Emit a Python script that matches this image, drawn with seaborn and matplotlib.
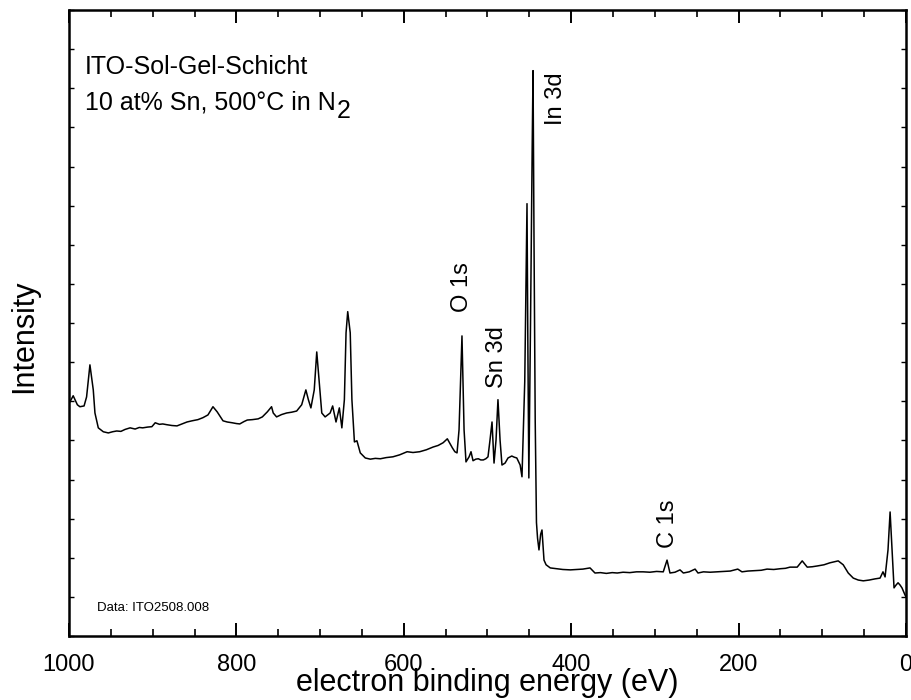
import matplotlib
matplotlib.use("Agg")
import matplotlib.pyplot as plt
import seaborn as sns
from matplotlib.ticker import MultipleLocator

sns.set_theme(style="ticks")
plt.rcParams["font.family"] = ["Liberation Sans", "DejaVu Sans"]
plt.rcParams["mathtext.fontset"] = "custom"
plt.rcParams["mathtext.rm"] = "Liberation Sans"
plt.rcParams["text.color"] = "black"
plt.rcParams["axes.labelcolor"] = "black"
plt.rcParams["xtick.color"] = "black"
plt.rcParams["ytick.color"] = "black"

# XPS survey spectrum
energy = [1000, 999, 995, 990, 987, 982, 979, 975, 971, 969, 965, 959, 953, 948, 943,
          938, 933, 927, 921, 916, 912, 906, 901, 897, 892, 888, 883, 877, 871, 865,
          859, 853, 846, 840, 834, 828, 823, 816, 811, 805, 800, 796, 791, 787, 781,
          774, 769, 763, 758, 756, 752, 746, 740, 734, 728, 722, 717, 714, 711, 707,
          704, 701, 698, 694, 691, 688, 685, 681, 677, 674, 671, 669, 667, 664, 662,
          659, 656, 652, 646, 640, 634, 628, 621, 613, 605, 596, 589, 581, 573, 565,
          559, 553, 548, 542, 539, 536.4, 534, 530.5, 528, 525.7, 522, 519.7, 517.3, 514, 511,
          508, 505, 502, 499.4, 497, 494.6, 492.2, 489.8, 487.5, 485, 482.7, 479, 475.5, 471,
          468, 465, 461, 458.8, 455.5, 453.8, 452.8, 451.8, 450.6, 448.6, 446.6, 445.6, 444.4,
          443, 441.5, 440.2, 438.5, 436.5, 434.9, 432.5, 430, 425, 418, 410, 401, 394, 386,
          377.5, 371.6, 365, 358, 351, 345, 338, 330, 322, 314, 306, 298, 290, 285.5, 282,
          276, 270, 266, 259, 252, 248.5, 242, 234, 226, 218, 210, 201, 196, 189, 181,
          173, 166, 158, 150, 144, 138.6, 130, 124, 118, 112, 106, 98, 91, 85, 81,
          75, 69, 63, 57, 51, 44, 37, 31, 27.5, 25, 21.5, 19, 16.7, 14.3, 12,
          9.5, 7, 4.8, 1.2, 0]
intensity = [6.00, 5.98, 6.14, 5.91, 5.86, 5.88, 6.11, 6.93, 6.29, 5.70, 5.32, 5.22, 5.19, 5.22, 5.24,
             5.23, 5.28, 5.32, 5.29, 5.33, 5.32, 5.34, 5.35, 5.45, 5.41, 5.42, 5.40, 5.38, 5.37, 5.42,
             5.47, 5.50, 5.53, 5.58, 5.65, 5.86, 5.73, 5.50, 5.47, 5.45, 5.43, 5.42, 5.48, 5.52, 5.53,
             5.55, 5.60, 5.73, 5.86, 5.70, 5.60, 5.66, 5.70, 5.72, 5.75, 5.91, 6.29, 6.04, 5.83, 6.29,
             7.26, 6.47, 5.70, 5.60, 5.65, 5.70, 5.88, 5.47, 5.83, 5.32, 6.04, 7.75, 8.29, 7.75, 6.04,
             4.96, 4.99, 4.68, 4.55, 4.52, 4.54, 4.53, 4.56, 4.58, 4.63, 4.71, 4.69, 4.71, 4.76, 4.83,
             4.87, 4.94, 5.04, 4.81, 4.71, 4.68, 5.27, 7.67, 5.27, 4.45, 4.58, 4.71, 4.48, 4.52, 4.53,
             4.50, 4.50, 4.53, 4.58, 5.01, 5.47, 4.42, 5.01, 6.04, 5.01, 4.37, 4.42, 4.55, 4.60,
             4.57, 4.55, 4.37, 4.07, 6.50, 9.50, 11.05, 7.50, 4.04, 8.00, 12.50, 14.45, 10.00,
             5.50, 2.90, 2.50, 2.20, 2.60, 2.71, 1.94, 1.82, 1.74, 1.72, 1.70, 1.69, 1.70, 1.71,
             1.74, 1.61, 1.62, 1.60, 1.62, 1.61, 1.63, 1.62, 1.64, 1.64, 1.63, 1.65, 1.64, 1.94, 1.61,
             1.63, 1.69, 1.61, 1.64, 1.71, 1.61, 1.64, 1.63, 1.64, 1.65, 1.66, 1.71, 1.64, 1.66, 1.67,
             1.68, 1.71, 1.70, 1.72, 1.73, 1.76, 1.76, 1.92, 1.76, 1.77, 1.79, 1.82, 1.87, 1.90, 1.92,
             1.82, 1.61, 1.48, 1.43, 1.41, 1.43, 1.46, 1.48, 1.64, 1.51, 2.20, 3.17, 2.20, 1.23, 1.30,
             1.36, 1.30, 1.23, 1.05, 1.00]

peak_labels = ["O 1s", "Sn 3d", "In 3d", "C 1s"]
peak_label_x = [530.5, 488.5, 418, 284.5]
peak_label_y = [8.29, 6.34, 13.07, 2.25]

fig = plt.figure(figsize=(9.12, 7), dpi=100)
ax = fig.add_axes([69 / 912, 64 / 700, 837 / 912, 626 / 700])

sns.lineplot(x=energy, y=intensity, ax=ax, color="black", lw=1.1,
             sort=False, estimator=None)

ax.set_xlim(1000, 0)
ax.set_ylim(0, 16)
ax.xaxis.set_major_locator(MultipleLocator(200))
ax.xaxis.set_minor_locator(MultipleLocator(50))
ax.yaxis.set_major_locator(MultipleLocator(1))
ax.tick_params(axis="x", which="major", direction="in", length=9.5, width=1.4,
               top=True, bottom=True, labelsize=17, pad=13, colors="black")
ax.tick_params(axis="x", which="minor", direction="in", length=5, width=1.2,
               top=True, bottom=True, colors="black")
ax.tick_params(axis="y", which="major", direction="in", length=3.5, width=1.0,
               left=True, right=True, labelleft=False, colors="black")
for s in ax.spines.values():
    s.set_linewidth(1.8)
    s.set_color("black")

ax.set_xlabel("electron binding energy (eV)", fontsize=22, labelpad=-6, color="black")
ax.set_ylabel("Intensity", fontsize=22, color="black")
ax.yaxis.set_label_coords(-0.036, 0.479)

for lab, lx, ly in zip(peak_labels, peak_label_x, peak_label_y):
    ax.text(lx, ly, lab, rotation=90, ha="center", va="bottom", fontsize=17, color="black")

ax.text(981, 14.37, "ITO-Sol-Gel-Schicht", fontsize=18, va="baseline", ha="left", color="black")
t = ax.text(981, 13.45, "10 at% Sn, 500°C in N", fontsize=18, va="baseline", ha="left",
            color="black")
ax.annotate("2", xy=(1, 0), xycoords=t, xytext=(0.5, -2), textcoords="offset points",
            fontsize=18, ha="left", va="baseline", color="black")
ax.text(966.5, 0.64, "Data: ITO2508.008", fontsize=9.5, va="baseline", ha="left", color="black")

fig.savefig("out.png", dpi=100, facecolor="white")
